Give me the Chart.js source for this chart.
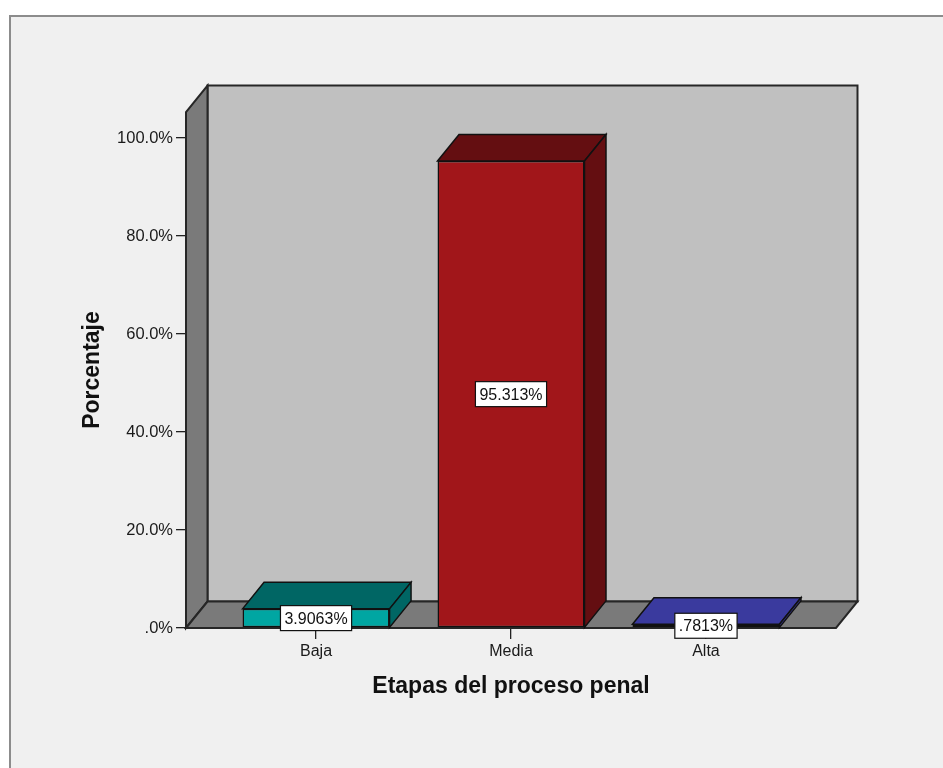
<!DOCTYPE html>
<html>
<head>
<meta charset="utf-8">
<title>Etapas del proceso penal</title>
<script src="https://cdn.jsdelivr.net/npm/chart.js@4/dist/chart.umd.min.js"></script>
<style>
  html, body { margin: 0; padding: 0; background: #ffffff; overflow: hidden; }
  #panel {
    position: absolute; left: 9px; top: 15px; width: 1000px; height: 800px;
    background: #f0f0f0; border-top: 2px solid #8c8c8c; border-left: 2px solid #8c8c8c;
  }
  #chart { position: absolute; left: 0; top: 0; }
</style>
</head>
<body>
<div id="panel"></div>
<canvas id="chart" width="943" height="768"></canvas>
<script>
// Categories and percentages
const categories = ['Baja', 'Media', 'Alta'];
const percentages = [3.9063, 95.313, 0.7813];
const frontColors = ['#00a6a2', '#a1161a', '#4848d2'];
const shadeColors = ['#006664', '#640e11', '#3a3a9e'];

// Y axis ticks
const yTickValues = [0, 20, 40, 60, 80, 100];
const yTickLabels = ['.0%', '20.0%', '40.0%', '60.0%', '80.0%', '100.0%'];

// 3D depth of the box and bars
const DEPTH_X = 21.5;
const DEPTH_Y = -26.5;

function fmtPct(v) {
  return String(v).replace(/^0\./, '.') + '%';
}

const box3d = {
  id: 'box3d',
  beforeDatasetsDraw(chart) {
    const { ctx, chartArea: a } = chart;
    const L = a.left, R = a.right, T = a.top, B = a.bottom;
    ctx.save();
    ctx.lineJoin = 'miter';
    ctx.strokeStyle = '#262626';
    ctx.lineWidth = 2;
    // back wall
    ctx.fillStyle = '#c0c0c0';
    ctx.beginPath();
    ctx.rect(L + DEPTH_X, T + DEPTH_Y, R - L, B - T);
    ctx.fill();
    ctx.stroke();
    // left wall
    ctx.fillStyle = '#7a7a7a';
    ctx.beginPath();
    ctx.moveTo(L, B);
    ctx.lineTo(L, T);
    ctx.lineTo(L + DEPTH_X, T + DEPTH_Y);
    ctx.lineTo(L + DEPTH_X, B + DEPTH_Y);
    ctx.closePath();
    ctx.fill();
    ctx.stroke();
    // floor
    ctx.beginPath();
    ctx.moveTo(L, B);
    ctx.lineTo(L + DEPTH_X, B + DEPTH_Y);
    ctx.lineTo(R + DEPTH_X, B + DEPTH_Y);
    ctx.lineTo(R, B);
    ctx.closePath();
    ctx.fill();
    ctx.stroke();
    ctx.restore();
  },
  afterDatasetsDraw(chart) {
    const { ctx } = chart;
    const meta = chart.getDatasetMeta(0);
    ctx.save();
    ctx.lineJoin = 'miter';
    ctx.strokeStyle = '#111';
    ctx.lineWidth = 1.5;
    meta.data.forEach((bar, i) => {
      const p = bar.getProps(['x', 'y', 'base', 'width'], true);
      const xl = p.x - p.width / 2, xr = p.x + p.width / 2;
      const top = p.y, base = p.base;
      ctx.fillStyle = shadeColors[i];
      // top face
      ctx.beginPath();
      ctx.moveTo(xl, top);
      ctx.lineTo(xl + DEPTH_X, top + DEPTH_Y);
      ctx.lineTo(xr + DEPTH_X, top + DEPTH_Y);
      ctx.lineTo(xr, top);
      ctx.closePath();
      ctx.fill();
      ctx.stroke();
      // side face
      ctx.beginPath();
      ctx.moveTo(xr, top);
      ctx.lineTo(xr + DEPTH_X, top + DEPTH_Y);
      ctx.lineTo(xr + DEPTH_X, base + DEPTH_Y);
      ctx.lineTo(xr, base);
      ctx.closePath();
      ctx.fill();
      ctx.stroke();
    });
    // value labels in white boxes
    ctx.font = '16px "Liberation Sans", Arial, sans-serif';
    ctx.textAlign = 'center';
    ctx.textBaseline = 'middle';
    meta.data.forEach((bar, i) => {
      const p = bar.getProps(['x', 'y', 'base'], true);
      const txt = fmtPct(percentages[i]);
      const cy = (p.y + p.base) / 2;
      const w = ctx.measureText(txt).width + 8;
      const h = 25;
      ctx.fillStyle = '#ffffff';
      ctx.fillRect(p.x - w / 2, cy - h / 2, w, h);
      ctx.strokeStyle = '#111';
      ctx.lineWidth = 1.2;
      ctx.strokeRect(p.x - w / 2, cy - h / 2, w, h);
      ctx.fillStyle = '#111';
      ctx.fillText(txt, p.x, cy + 1);
    });
    ctx.restore();
  }
};

Chart.defaults.font.family = '"Liberation Sans", Arial, sans-serif';
Chart.defaults.font.size = 16;
Chart.defaults.color = '#1a1a1a';

new Chart(document.getElementById('chart'), {
  type: 'bar',
  data: {
    datasets: [{
      data: categories.map((c, i) => ({ x: i, y: percentages[i] })),
      backgroundColor: frontColors,
      borderColor: '#111',
      borderWidth: 1.5,
      borderSkipped: false,
      categoryPercentage: 1,
      barPercentage: 0.754
    }]
  },
  options: {
    responsive: false,
    animation: false,
    devicePixelRatio: 1,
    layout: { padding: { top: 112, right: 107, left: 0, bottom: 0 } },
    plugins: { legend: { display: false }, tooltip: { enabled: false } },
    scales: {
      x: {
        type: 'linear',
        offset: false,
        min: -0.667,
        max: 2.667,
        afterBuildTicks(scale) { scale.ticks = categories.map((c, i) => ({ value: i })); },
        afterFit(scale) { scale.height = 140; },
        ticks: {
          callback: (v) => categories[v],
          padding: 3,
          color: '#1a1a1a',
          maxRotation: 0
        },
        grid: { offset: false, drawOnChartArea: false, drawTicks: true, tickLength: 11, color: '#222', lineWidth: 1.3 },
        border: { display: false },
        title: {
          display: true,
          text: 'Etapas del proceso penal',
          font: { size: 23, weight: 'bold' },
          color: '#111',
          padding: { bottom: 68, top: 0 }
        }
      },
      y: {
        min: 0,
        max: 105.3,
        afterBuildTicks(scale) { scale.ticks = yTickValues.map(v => ({ value: v })); },
        afterFit(scale) { scale.width = 186; },
        ticks: {
          callback: (v, i) => yTickLabels[i],
          padding: 3,
          color: '#1a1a1a',
          font: { size: 16.5 }
        },
        grid: { drawOnChartArea: false, drawTicks: true, tickLength: 10, color: '#222', lineWidth: 1.3 },
        border: { display: false },
        title: {
          display: true,
          text: 'Porcentaje',
          font: { size: 23, weight: 'bold' },
          color: '#111',
          padding: { top: 79, bottom: 0 }
        }
      }
    }
  },
  plugins: [box3d]
});
</script>
</body>
</html>
